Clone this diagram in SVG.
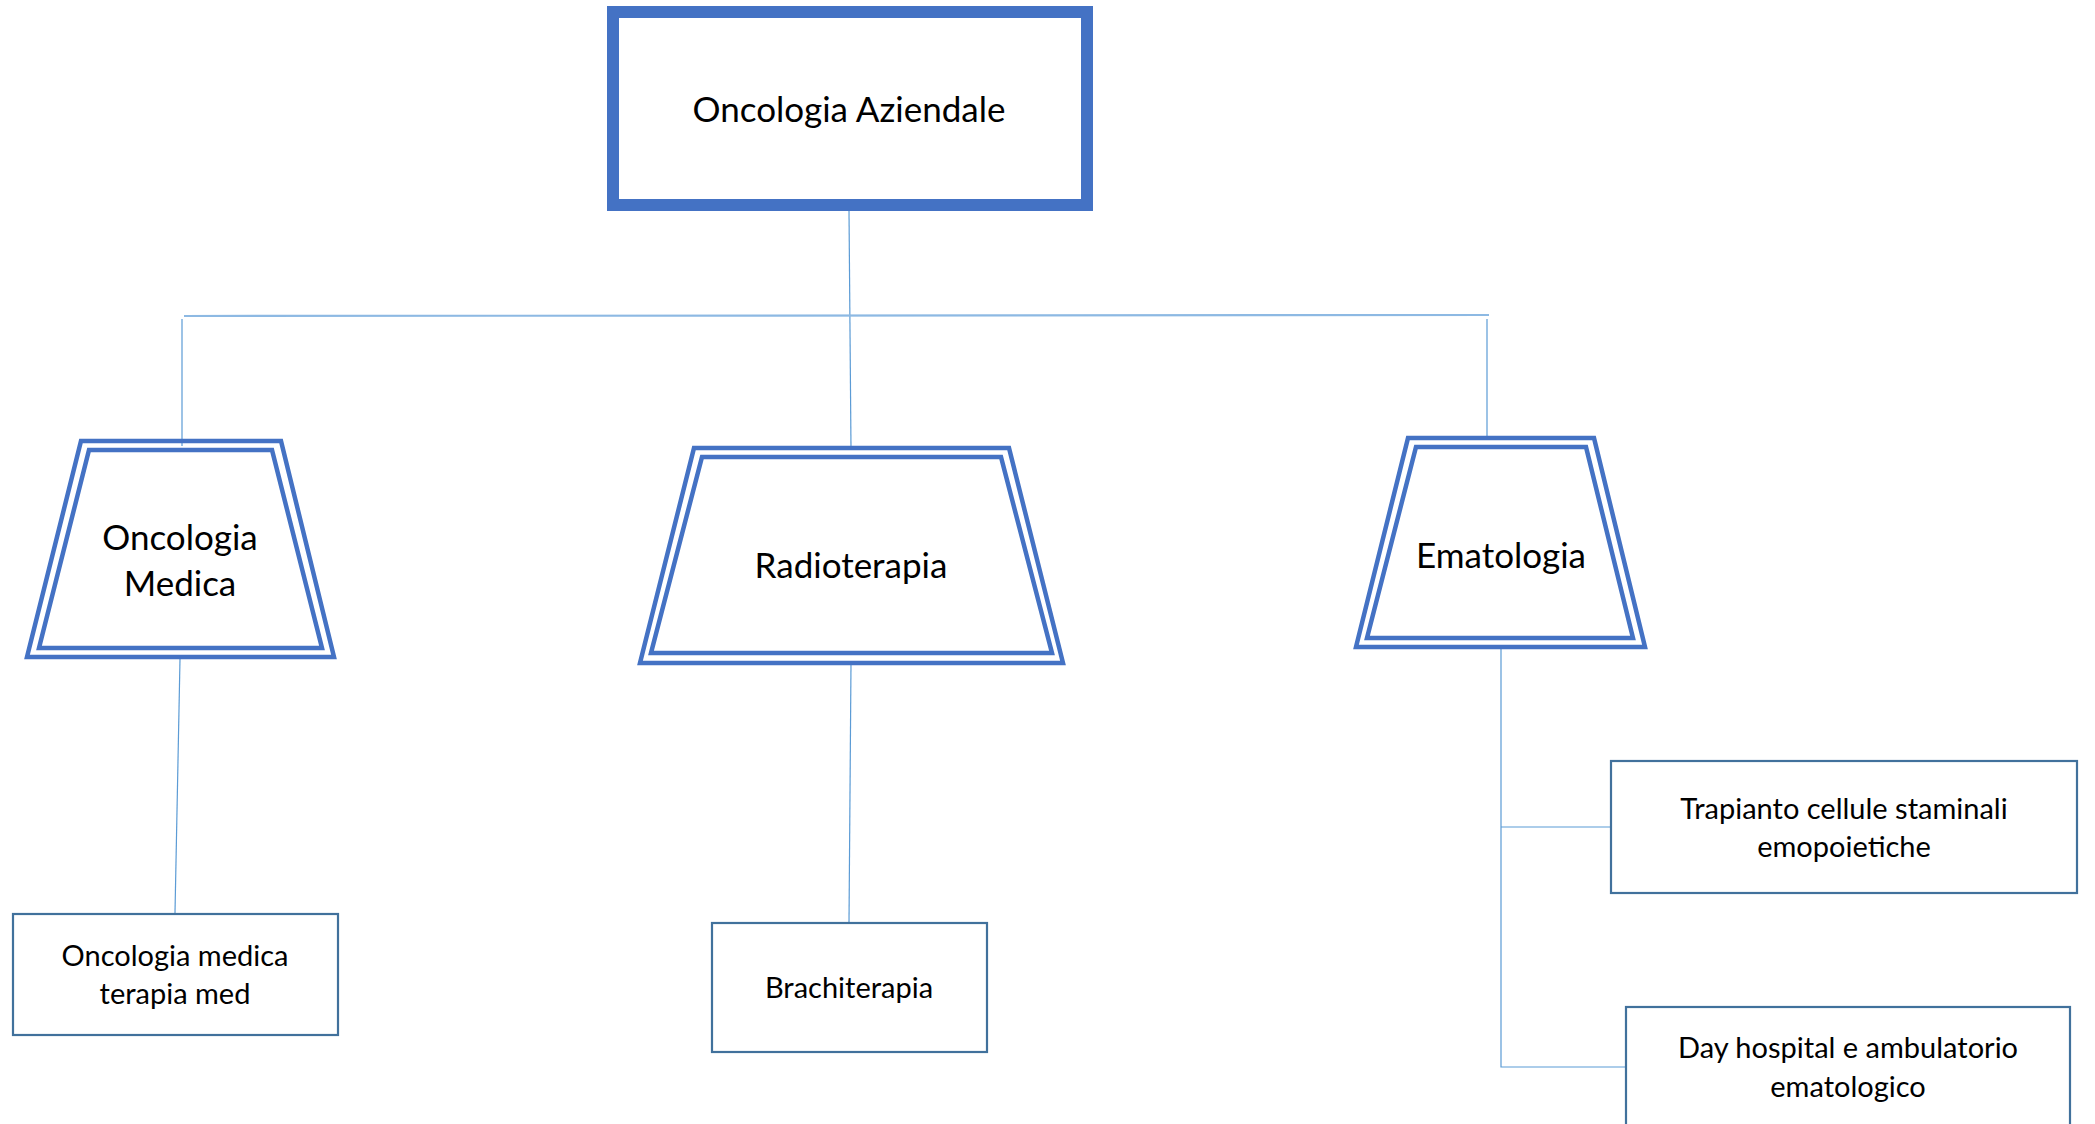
<svg xmlns="http://www.w3.org/2000/svg" width="2095" height="1124" viewBox="0 0 2095 1124">
<style>
.t{font-family:Lato,"Open Sans",sans-serif;fill:#000;text-anchor:middle}
.big{font-size:35px}
.sm{font-size:29px}
.trap{fill:none;stroke:#4472C4;stroke-width:4.5;stroke-linejoin:miter}
.box{fill:#fff;stroke:#41719C;stroke-width:2.2}
.c{fill:none;stroke:#5B9BD5;stroke-width:1.2}
</style>
<rect width="2095" height="1124" fill="#fff"/>
<g id="connectors">
<path class="c" d="M849 211 L851 448"/>
<path d="M184 316 L1489 315" fill="none" stroke="#8DB9E3" stroke-width="2.2"/>
<path class="c" d="M182 319 L182 446"/>
<path class="c" d="M1487 319 L1487 436"/>
<path class="c" d="M180 659 L175 913"/>
<path class="c" d="M851 663 L849 923"/>
<path class="c" d="M1501 649 L1501 1067 L1626 1067"/>
<path class="c" d="M1501 827 L1611 827"/>
</g>
<g id="oncologia-aziendale">
<rect x="613" y="12" width="474" height="193" fill="#fff" stroke="#4472C4" stroke-width="12"/>
<text class="t big" x="849" y="122">Oncologia Aziendale</text>
</g>
<g id="oncologia-medica">
<polygon class="trap" points="81,441 281,441 334,657 27,657"/>
<polygon class="trap" points="89,450 272,450 322,648 39,648"/>
<text class="t big" x="180" y="550">Oncologia</text>
<text class="t big" x="180" y="596">Medica</text>
</g>
<g id="radioterapia">
<polygon class="trap" points="694,448 1009,448 1063,663 640,663"/>
<polygon class="trap" points="702,457 1001,457 1052,653 651,653"/>
<text class="t big" x="851" y="578">Radioterapia</text>
</g>
<g id="ematologia">
<polygon class="trap" points="1408,438 1594,438 1645,647 1356,647"/>
<polygon class="trap" points="1416,447 1586,447 1633,638 1367,638"/>
<text class="t big" x="1501" y="568">Ematologia</text>
</g>
<g id="oncologia-medica-terapia">
<rect class="box" x="13" y="914" width="325" height="121"/>
<text class="t sm" x="175" y="966">Oncologia medica</text>
<text class="t sm" x="175" y="1004">terapia med</text>
</g>
<g id="brachiterapia">
<rect class="box" x="712" y="923" width="275" height="129"/>
<text class="t sm" x="849" y="998">Brachiterapia</text>
</g>
<g id="trapianto">
<rect class="box" x="1611" y="761" width="466" height="132"/>
<text class="t sm" x="1844" y="819">Trapianto cellule staminali</text>
<text class="t sm" x="1844" y="857">emopoietiche</text>
</g>
<g id="day-hospital">
<rect class="box" x="1626" y="1007" width="444" height="130"/>
<text class="t sm" x="1848" y="1058">Day hospital e ambulatorio</text>
<text class="t sm" x="1848" y="1097">ematologico</text>
</g>
</svg>
